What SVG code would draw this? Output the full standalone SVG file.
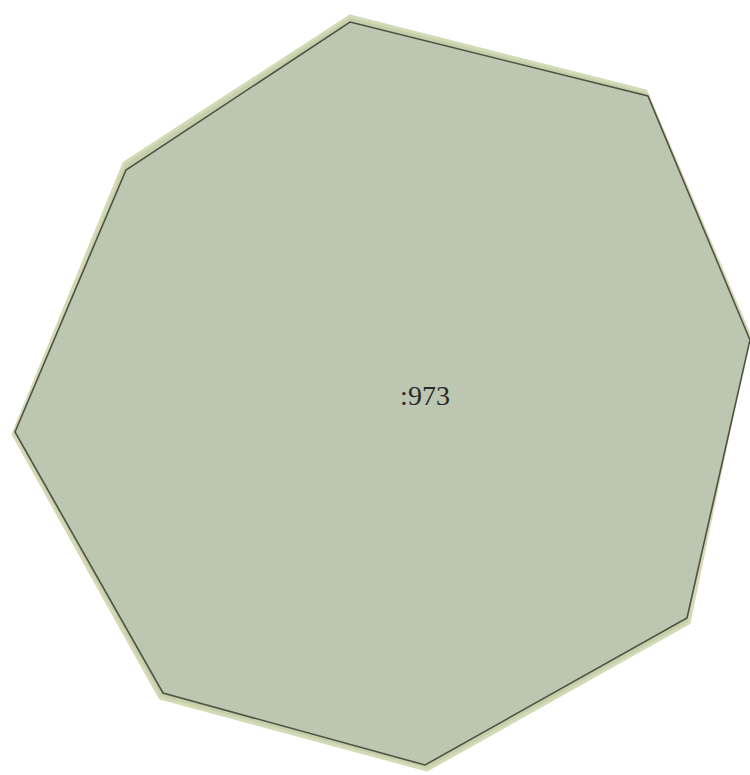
<svg xmlns="http://www.w3.org/2000/svg" width="750" height="775" viewBox="0 0 750 775">
<style>
.halo{fill:#c6cfac;stroke:#d3dab5;stroke-width:3;stroke-linejoin:round}
.shape{fill:#bcc6b0;stroke:#4d5442;stroke-width:1.6;stroke-linejoin:miter}
.lbl{font-family:"Liberation Serif","Times New Roman",serif;font-size:28px;fill:#2a2a2a;text-anchor:middle}
</style>
<rect width="750" height="775" fill="#ffffff"/>
<g id="node-973">
<polygon class="halo" points="350,16 646,91 749,334 689,623 427,770 160,698 13,434 124,163"/>
<polygon class="shape" points="350,22 648,96 750,340 687,618 425,765 163,693 15,432 126,170"/>
<text class="lbl" x="425" y="405">:973</text>
</g>
<g id="connectors"/>
</svg>
